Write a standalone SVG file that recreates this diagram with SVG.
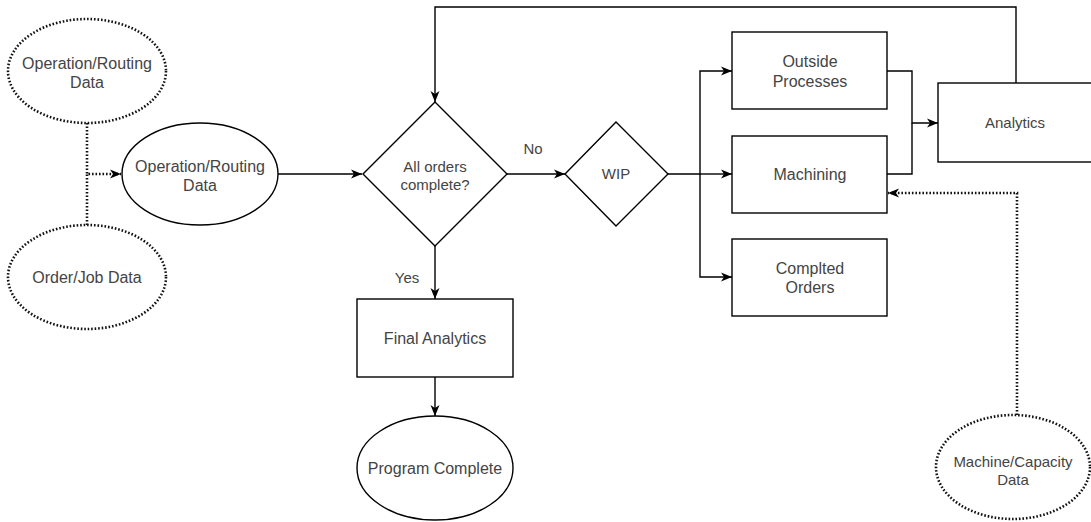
<svg xmlns="http://www.w3.org/2000/svg" width="1091" height="522" viewBox="0 0 1091 522">
<style>
.s{fill:#fff;stroke:#000;stroke-width:1.4}
.d{fill:#fff;stroke:#111;stroke-width:2.6;stroke-dasharray:1.6 1.9}
.c{fill:none;stroke:#000;stroke-width:1.4}
.cd{fill:none;stroke:#111;stroke-width:2.6;stroke-dasharray:1.6 1.9}
text{font-family:"Liberation Sans",Arial,sans-serif;font-size:16px;fill:#444;text-anchor:middle}
.sm{font-size:15px}
</style>
<defs>
<marker id="a" markerUnits="userSpaceOnUse" markerWidth="12" markerHeight="10" refX="11" refY="5" orient="auto">
<path d="M0,0.5 L11,5 L0,9.5 L3,5 Z" fill="#000"/>
</marker>
</defs>
<rect width="1091" height="522" fill="#fff"/>
<g id="connectors">
<path class="cd" d="M87,123 V174 H121" marker-end="url(#a)"/>
<path class="cd" d="M87,225 V174"/>
<path class="c" d="M278,174 H362" marker-end="url(#a)"/>
<path class="c" d="M507,174 H565" marker-end="url(#a)"/>
<path class="c" d="M435,246 V299" marker-end="url(#a)"/>
<path class="c" d="M435,377 V416" marker-end="url(#a)"/>
<path class="c" d="M668,174 H700 V71 H732" marker-end="url(#a)"/>
<path class="c" d="M700,174 H732" marker-end="url(#a)"/>
<path class="c" d="M700,174 V277 H732" marker-end="url(#a)"/>
<path class="c" d="M887,71 H912 V123 H938" marker-end="url(#a)"/>
<path class="c" d="M887,174 H912 V123"/>
<path class="c" d="M1016,83 V7 H435 V102" marker-end="url(#a)"/>
<path class="cd" d="M1017,415 V193 H888" marker-end="url(#a)"/>
<text class="sm" x="533" y="154">No</text>
<text class="sm" x="407" y="283">Yes</text>
</g>
<g id="op-routing-src">
<ellipse class="d" cx="87" cy="71" rx="79" ry="52"/>
<text x="87" y="69">Operation/Routing</text>
<text x="87" y="88">Data</text>
</g>
<g id="order-job">
<ellipse class="d" cx="87" cy="277" rx="79" ry="52"/>
<text x="87" y="283">Order/Job Data</text>
</g>
<g id="op-routing">
<ellipse class="s" cx="200" cy="174" rx="78" ry="51"/>
<text x="200" y="172">Operation/Routing</text>
<text x="200" y="191">Data</text>
</g>
<g id="all-orders">
<path class="s" d="M435,102 L507,174 L435,246 L363,174 Z"/>
<text class="sm" x="435" y="172">All orders</text>
<text class="sm" x="435" y="190">complete?</text>
</g>
<g id="wip">
<path class="s" d="M616,122 L668,174 L616,226 L565,174 Z"/>
<text class="sm" x="616" y="179">WIP</text>
</g>
<g id="outside">
<rect class="s" x="732" y="32" width="155" height="77"/>
<text x="810" y="67">Outside</text>
<text x="810" y="87">Processes</text>
</g>
<g id="machining">
<rect class="s" x="732" y="136" width="155" height="77"/>
<text x="810" y="180">Machining</text>
</g>
<g id="completed">
<rect class="s" x="732" y="239" width="155" height="77"/>
<text x="810" y="274">Complted</text>
<text x="810" y="293">Orders</text>
</g>
<g id="analytics">
<rect class="s" x="938" y="83" width="156" height="79"/>
<text class="sm" x="1015" y="128">Analytics</text>
</g>
<g id="final-analytics">
<rect class="s" x="357" y="299" width="156" height="78"/>
<text x="435" y="344">Final Analytics</text>
</g>
<g id="program-complete">
<ellipse class="s" cx="435" cy="468" rx="78" ry="52"/>
<text x="435" y="474">Program Complete</text>
</g>
<g id="machine-capacity">
<ellipse class="d" cx="1013" cy="467" rx="77" ry="52"/>
<text class="sm" x="1013" y="467">Machine/Capacity</text>
<text class="sm" x="1013" y="485">Data</text>
</g>
</svg>
